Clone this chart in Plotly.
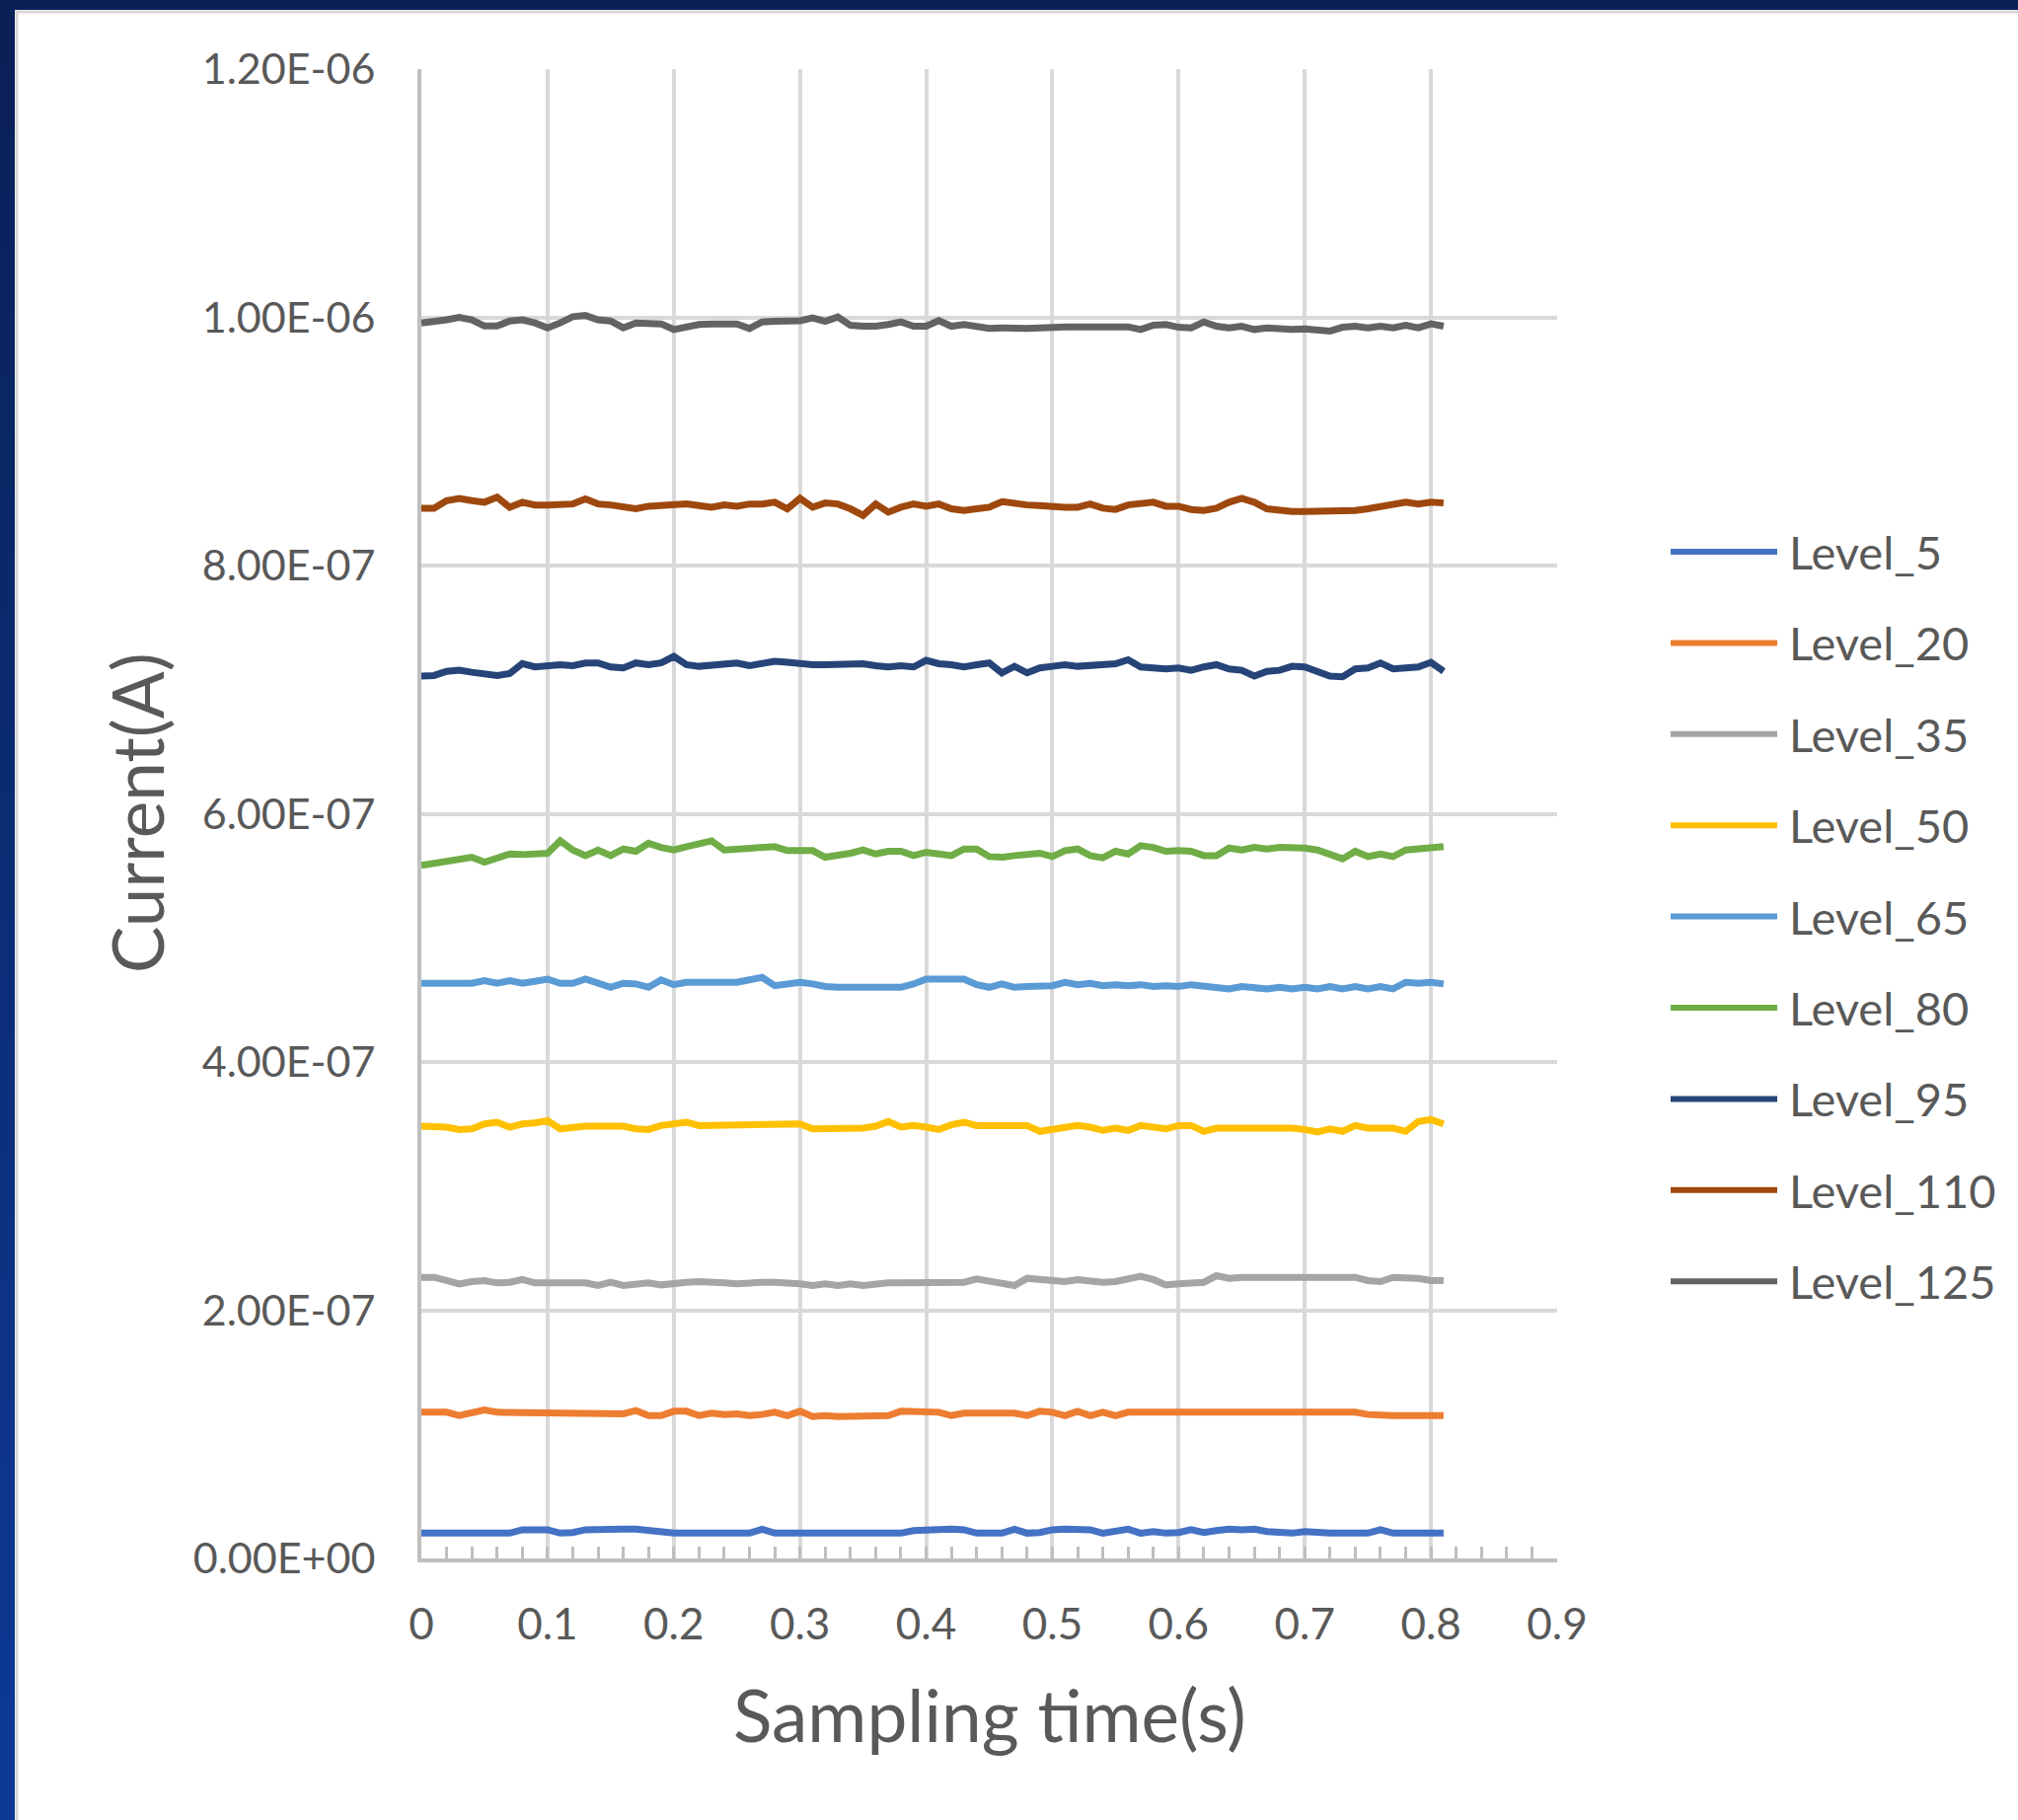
import plotly.graph_objects as go

# ---------------- data (current in nA, time in s) ----------------
time_s = [0.00, 0.01, 0.02, 0.03, 0.04, 0.05, 0.06, 0.07, 0.08, 0.09,
          0.10, 0.11, 0.12, 0.13, 0.14, 0.15, 0.16, 0.17, 0.18, 0.19,
          0.20, 0.21, 0.22, 0.23, 0.24, 0.25, 0.26, 0.27, 0.28, 0.29,
          0.30, 0.31, 0.32, 0.33, 0.34, 0.35, 0.36, 0.37, 0.38, 0.39,
          0.40, 0.41, 0.42, 0.43, 0.44, 0.45, 0.46, 0.47, 0.48, 0.49,
          0.50, 0.51, 0.52, 0.53, 0.54, 0.55, 0.56, 0.57, 0.58, 0.59,
          0.60, 0.61, 0.62, 0.63, 0.64, 0.65, 0.66, 0.67, 0.68, 0.69,
          0.70, 0.71, 0.72, 0.73, 0.74, 0.75, 0.76, 0.77, 0.78, 0.79,
          0.80, 0.81]

level_5 = [20.4, 20.4, 20.4, 20.4, 20.4, 20.4, 20.4, 20.4, 23.1, 23.6,
           23.1, 20.4, 20.9, 23.1, 23.6, 23.6, 23.6, 23.6, 22.5, 20.4,
           20.4, 20.4, 20.4, 20.4, 20.4, 20.4, 20.4, 23.6, 20.4, 20.4,
           20.4, 20.4, 20.4, 20.4, 20.4, 20.4, 20.4, 21.7, 20.4, 22.5,
           23.1, 23.6, 23.6, 23.1, 20.4, 20.4, 20.4, 23.6, 20.4, 20.9,
           23.1, 23.6, 23.6, 23.1, 20.4, 21.7, 23.6, 20.4, 21.7, 20.4,
           20.9, 23.1, 20.9, 22.5, 23.6, 23.1, 23.6, 21.7, 20.4, 20.4,
           21.7, 20.4, 20.4, 20.4, 20.4, 20.4, 23.1, 20.4, 20.4, 20.4,
           20.4, 20.4]

level_20 = [117.8, 117.8, 117.8, 115.1, 117.8, 119.6, 117.8, 117.8, 117.8, 117.8,
            117.8, 117.8, 117.8, 117.8, 117.8, 117.8, 116.5, 119.1, 115.1, 115.1,
            118.6, 118.6, 115.1, 117.0, 116.0, 116.5, 115.1, 116.0, 117.8, 115.1,
            118.6, 114.4, 115.1, 114.4, 114.4, 114.4, 114.4, 115.1, 118.6, 118.6,
            117.8, 117.8, 115.1, 117.0, 117.0, 117.0, 117.0, 117.0, 115.1, 118.6,
            117.8, 115.1, 118.6, 115.1, 117.8, 115.1, 117.8, 117.8, 117.8, 117.8,
            117.8, 117.8, 117.8, 117.8, 117.8, 117.8, 117.8, 117.8, 117.8, 117.8,
            117.8, 117.8, 117.8, 117.8, 117.8, 116.0, 115.1, 115.1, 115.1, 115.1,
            115.1, 115.1]

level_35 = [226.5, 226.5, 223.9, 221.2, 223.1, 223.9, 222.0, 222.5, 224.7, 222.0,
            222.0, 222.0, 222.0, 222.0, 219.9, 222.5, 219.9, 220.4, 222.0, 220.4,
            222.0, 222.5, 223.1, 222.0, 222.0, 221.2, 222.5, 222.5, 222.5, 222.5,
            221.2, 219.9, 221.2, 219.9, 221.2, 219.9, 221.2, 222.0, 222.0, 222.0,
            222.0, 222.0, 222.0, 222.5, 225.2, 223.9, 221.2, 219.9, 225.7, 224.7,
            224.7, 223.1, 224.7, 223.1, 222.5, 223.1, 224.7, 227.4, 224.7, 220.4,
            221.2, 222.0, 222.5, 227.8, 225.7, 226.5, 226.5, 226.5, 226.5, 226.5,
            225.7, 226.5, 226.5, 226.5, 226.5, 223.9, 223.1, 226.5, 226.5, 225.7,
            223.9, 223.9]

level_50 = [348.3, 348.3, 347.5, 345.6, 346.1, 350.1, 351.5, 347.5, 350.1, 350.9,
            352.8, 346.1, 347.5, 348.3, 348.3, 348.3, 348.3, 346.1, 345.6, 348.8,
            350.1, 351.5, 348.8, 348.8, 348.8, 348.8, 348.8, 348.8, 348.8, 348.8,
            350.1, 346.1, 346.1, 346.1, 346.1, 346.7, 348.3, 352.0, 347.5, 348.8,
            347.5, 345.6, 349.4, 351.5, 348.8, 348.8, 348.8, 348.8, 348.8, 344.1,
            345.6, 346.7, 348.8, 347.5, 344.9, 346.7, 344.9, 348.8, 347.5, 346.1,
            348.8, 348.8, 344.1, 346.7, 346.7, 346.7, 346.7, 347.5, 347.5, 346.7,
            345.6, 343.6, 346.1, 344.1, 348.8, 346.7, 346.7, 346.7, 344.1, 352.0,
            353.6, 350.1]

level_65 = [463.4, 463.4, 463.4, 463.4, 463.4, 465.5, 463.4, 465.5, 463.4, 465.0,
            466.8, 463.4, 463.4, 466.8, 464.2, 460.2, 463.4, 462.9, 460.2, 466.2,
            462.3, 464.2, 464.2, 464.2, 464.2, 464.2, 466.2, 468.2, 461.5, 462.9,
            464.2, 462.9, 460.8, 460.2, 460.2, 461.5, 460.2, 460.8, 460.2, 462.9,
            466.8, 466.8, 466.8, 466.8, 462.3, 460.2, 462.9, 460.2, 460.8, 460.8,
            461.5, 464.2, 462.3, 463.4, 461.5, 462.3, 461.5, 462.3, 460.8, 461.5,
            460.8, 462.3, 461.5, 460.8, 458.9, 460.8, 460.2, 458.9, 460.2, 458.9,
            460.2, 458.9, 460.8, 458.9, 460.8, 458.9, 460.8, 458.9, 464.2, 463.4,
            464.2, 462.9]

level_80 = [558.4, 560.2, 561.0, 562.9, 565.0, 561.0, 565.0, 567.6, 567.1, 567.6,
            568.2, 578.2, 570.8, 566.3, 570.8, 566.3, 571.6, 569.8, 576.2, 572.9,
            570.8, 573.5, 575.6, 578.2, 570.8, 571.6, 571.6, 572.9, 573.5, 570.3,
            570.8, 570.3, 565.0, 566.3, 568.2, 570.8, 567.6, 569.8, 569.8, 566.3,
            569.0, 567.6, 566.3, 571.6, 571.6, 565.5, 565.0, 566.3, 567.6, 568.2,
            565.5, 570.3, 571.6, 566.3, 564.5, 569.8, 567.6, 574.3, 572.9, 569.8,
            570.3, 569.8, 566.3, 566.3, 572.4, 570.8, 572.9, 571.6, 572.9, 572.9,
            572.4, 570.8, 567.6, 563.7, 569.8, 565.5, 567.6, 565.5, 570.8, 571.6,
            572.4, 573.5]

level_95 = [710.9, 711.4, 714.8, 715.6, 714.0, 712.2, 711.4, 713.0, 721.0, 718.3,
            719.3, 720.1, 719.3, 721.5, 721.5, 718.3, 717.5, 721.5, 720.1, 721.5,
            726.8, 720.1, 718.8, 720.1, 721.5, 721.5, 719.3, 721.5, 722.8, 722.0,
            720.9, 720.1, 720.1, 720.1, 720.1, 720.9, 719.3, 718.3, 719.3, 718.3,
            723.6, 720.9, 720.1, 718.3, 720.1, 721.5, 713.5, 718.8, 713.5, 717.5,
            718.8, 720.1, 718.8, 719.3, 720.1, 720.9, 724.1, 718.3, 717.5, 716.7,
            717.5, 715.6, 718.3, 720.1, 716.7, 715.6, 710.9, 714.8, 715.6, 718.8,
            718.3, 714.0, 710.9, 710.3, 716.7, 717.5, 721.5, 716.7, 717.5, 718.3,
            722.0, 714.8]

level_110 = [846.2, 846.2, 852.3, 854.1, 852.3, 851.0, 855.0, 847.0, 851.0, 848.8,
             848.8, 848.8, 849.6, 853.6, 849.6, 848.8, 847.8, 845.7, 847.8, 848.8,
             849.6, 849.6, 848.3, 847.0, 848.8, 847.8, 849.6, 849.6, 851.0, 845.7,
             854.1, 847.0, 850.4, 849.6, 845.7, 840.4, 849.6, 843.0, 847.0, 849.6,
             847.8, 849.6, 845.7, 844.4, 845.7, 847.0, 851.5, 849.6, 848.8, 848.3,
             847.0, 847.0, 847.0, 849.6, 846.2, 845.2, 848.8, 849.6, 851.0, 847.8,
             847.8, 845.2, 844.4, 846.2, 851.0, 854.1, 851.0, 845.7, 844.4, 843.6,
             843.6, 843.6, 843.6, 843.6, 844.4, 845.7, 847.8, 849.6, 851.0, 849.6,
             851.0, 850.4]

level_125 = [995.5, 996.3, 998.0, 1000.0, 998.0, 993.0, 993.0, 997.0, 998.0, 995.5,
             991.5, 995.5, 1000.5, 1001.5, 998.0, 997.0, 991.5, 995.5, 994.7, 994.7,
             990.2, 992.8, 994.2, 994.7, 994.2, 994.7, 991.0, 996.3, 996.8, 996.8,
             997.3, 999.5, 996.8, 1000.3, 993.6, 992.8, 992.8, 994.2, 996.3, 992.8,
             992.8, 997.3, 992.8, 994.2, 992.3, 991.0, 991.5, 990.7, 991.0, 991.5,
             992.3, 992.3, 992.3, 992.3, 992.3, 992.3, 992.3, 990.2, 993.6, 994.2,
             992.0, 991.5, 996.3, 992.8, 991.5, 992.8, 990.2, 991.5, 990.2, 990.2,
             990.7, 990.2, 988.9, 992.0, 992.8, 991.5, 992.8, 991.5, 993.6, 991.5,
             994.7, 992.8]

series_names = ["Level_5", "Level_20", "Level_35", "Level_50", "Level_65",
                "Level_80", "Level_95", "Level_110", "Level_125"]
series_values = [level_5, level_20, level_35, level_50, level_65,
                 level_80, level_95, level_110, level_125]
series_colors = ["#4472C4", "#ED7D31", "#A5A5A5", "#FFC000", "#5B9BD5",
                 "#70AD47", "#264478", "#9E480E", "#636363"]

x_tickvals = [0, 0.1, 0.2, 0.3, 0.4, 0.5, 0.6, 0.7, 0.8, 0.9]
x_ticktext = ["0", "0.1", "0.2", "0.3", "0.4", "0.5", "0.6", "0.7", "0.8", "0.9"]
y_tickvals = [0, 2e-7, 4e-7, 6e-7, 8e-7, 1e-6, 1.2e-6]
y_ticktext = ["0.00E+00", "2.00E-07", "4.00E-07", "6.00E-07",
              "8.00E-07", "1.00E-06", "1.20E-06"]

x_title = "Sampling time(s)"
y_title = "Current(A)"

# ---------------- layout geometry (pixels) ----------------
W, H = 2045, 1844
ML, MR, MT, MB = 427, 467, 70, 265
PW = W - ML - MR
PH = H - MT - MB
PLOT_BOTTOM = H - MB


def px_x(p):
    return (p - ML) / PW


def px_y(p):
    return (PLOT_BOTTOM - p) / PH


FONT = "Lato, 'Open Sans', sans-serif"
TXT = "#595959"
GRID = "#D9D9D9"
AXIS = "#BFBFBF"

fig = go.Figure()
for name, vals, col in zip(series_names, series_values, series_colors):
    fig.add_trace(go.Scatter(
        x=time_s, y=[v * 1e-9 for v in vals], name=name, mode="lines",
        line=dict(color=col, width=7), showlegend=False,
    ))

shapes = []
annotations = []

# frame: dark navy border on top and left, with a thin light line inside
shapes.append(dict(type="rect", xref="paper", yref="paper",
                   x0=px_x(0), x1=px_x(W), y0=px_y(10), y1=px_y(0),
                   fillcolor="#0A2158", line=dict(width=0), layer="above"))
n_seg = 30
for i in range(n_seg):
    t = i / (n_seg - 1)
    r = int(10 + (14 - 10) * t)
    g = int(33 + (58 - 33) * t)
    b = int(88 + (150 - 88) * t)
    y0p = 10 + (H - 10) * i / n_seg
    y1p = 10 + (H - 10) * (i + 1) / n_seg + 1
    shapes.append(dict(type="rect", xref="paper", yref="paper",
                       x0=px_x(0), x1=px_x(15), y0=px_y(y1p), y1=px_y(y0p),
                       fillcolor=f"rgb({r},{g},{b})", line=dict(width=0),
                       layer="above"))
shapes.append(dict(type="line", xref="paper", yref="paper",
                   x0=px_x(15), x1=px_x(W), y0=px_y(12), y1=px_y(12),
                   line=dict(color="#D6D6D6", width=3), layer="above"))
shapes.append(dict(type="line", xref="paper", yref="paper",
                   x0=px_x(17), x1=px_x(17), y0=px_y(H), y1=px_y(11),
                   line=dict(color="#D6D6D6", width=3), layer="above"))

# legend (drawn manually to get long Excel-style sample lines)
LEG_Y0, LEG_DY = 559, 92.4
for i, (name, col) in enumerate(zip(series_names, series_colors)):
    yp = LEG_Y0 + i * LEG_DY
    shapes.append(dict(type="line", xref="paper", yref="paper",
                       x0=px_x(1693), x1=px_x(1801), y0=px_y(yp), y1=px_y(yp),
                       line=dict(color=col, width=6)))
    annotations.append(dict(xref="paper", yref="paper", x=px_x(1811), y=px_y(yp),
                            text=name, showarrow=False, xanchor="left",
                            yanchor="middle",
                            font=dict(family=FONT, size=47, color=TXT)))

# axis titles
annotations.append(dict(xref="paper", yref="paper", x=0.5, y=px_y(1737),
                        text=x_title, showarrow=False, xanchor="center",
                        yanchor="middle",
                        font=dict(family=FONT, size=73, color=TXT)))
annotations.append(dict(xref="paper", yref="paper", x=px_x(138), y=px_y(824),
                        text=y_title, showarrow=False, xanchor="center",
                        yanchor="middle", textangle=-90,
                        font=dict(family=FONT, size=71, color=TXT)))

fig.update_layout(
    width=W, height=H, autosize=False,
    margin=dict(l=ML, r=MR, t=MT, b=MB, pad=0),
    paper_bgcolor="white", plot_bgcolor="white",
    font=dict(family=FONT, color=TXT),
    showlegend=False,
    shapes=shapes, annotations=annotations,
    xaxis=dict(
        range=[0, 0.9], tickmode="array", tickvals=x_tickvals, ticktext=x_ticktext,
        showgrid=True, gridcolor=GRID, gridwidth=4, zeroline=False,
        showline=True, linecolor=AXIS, linewidth=4,
        ticks="inside", ticklen=12, tickwidth=3, tickcolor=AXIS,
        minor=dict(dtick=0.02, tick0=0, ticks="inside", ticklen=12,
                   tickwidth=3, tickcolor=AXIS, showgrid=False),
        tickfont=dict(family=FONT, size=44, color=TXT),
        ticklabelstandoff=25,
        fixedrange=True,
    ),
    yaxis=dict(
        range=[0, 1.2e-6], tickmode="array", tickvals=y_tickvals, ticktext=y_ticktext,
        showgrid=True, gridcolor=GRID, gridwidth=4, zeroline=False,
        showline=True, linecolor=AXIS, linewidth=4,
        ticks="",
        tickfont=dict(family=FONT, size=43, color=TXT),
        ticklabelstandoff=34,
        fixedrange=True,
    ),
)

fig.write_html("out.html")
